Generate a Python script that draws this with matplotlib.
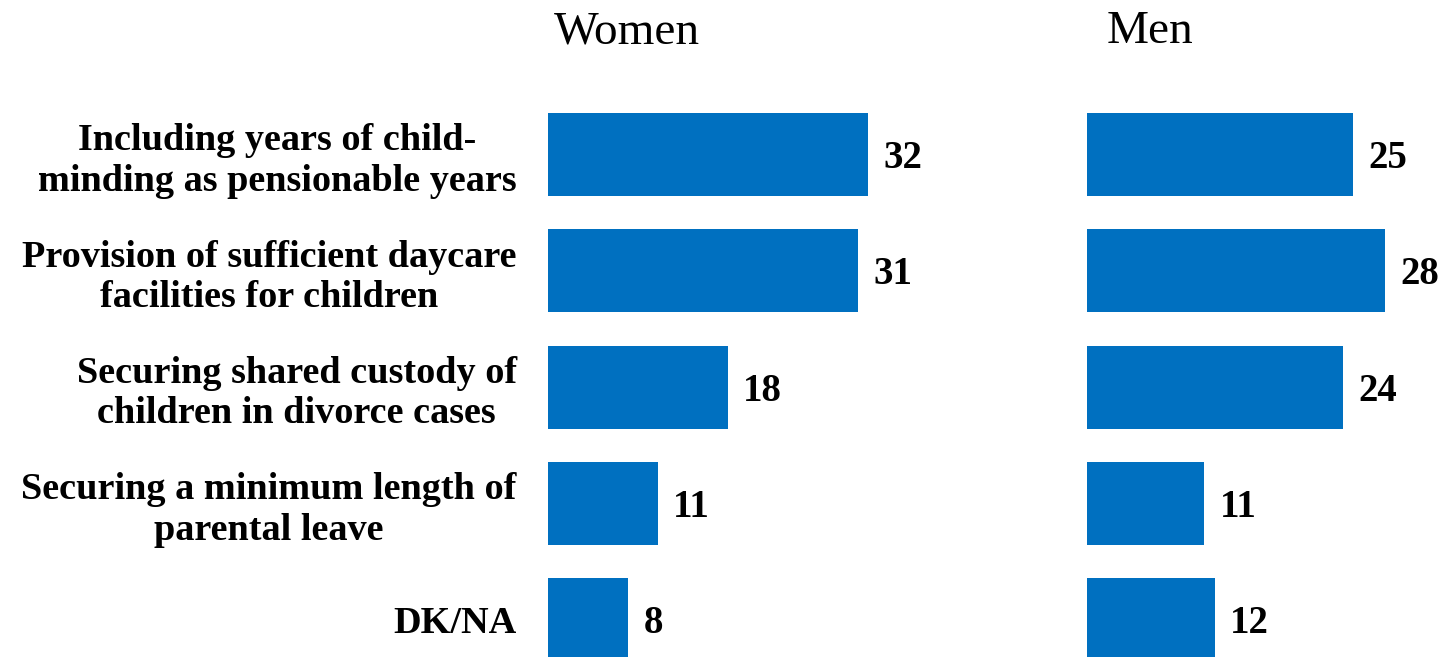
import numpy as np
import matplotlib
matplotlib.use('Agg')
import matplotlib.pyplot as plt

# Survey answers, share in percent
categories = ['Including years of child-\nminding as pensionable years',
              'Provision of sufficient daycare\nfacilities for children',
              'Securing shared custody of\nchildren in divorce cases',
              'Securing a minimum length of\nparental leave',
              'DK/NA']
women = [32, 31, 18, 11, 8]
men = [25, 28, 24, 11, 12]
panel_titles = ['Women', 'Men']

bar_color = '#0070C0'
plt.rcParams['font.family'] = ['Liberation Serif', 'DejaVu Serif']

W, H = 1455, 657
fig = plt.figure(figsize=(W / 100, H / 100), dpi=100)

y = np.arange(len(categories))
ylim = (4.321, -1.328)

# Women panel: starts at x=548px, ~10 px per unit
ax1 = fig.add_axes([548 / W, 0, 450 / W, 1])
ax1.barh(y, women, height=0.714, color=bar_color)
ax1.set_xlim(0, 45)
ax1.set_ylim(*ylim)

# Men panel: starts at x=1087px, ~10.65 px per unit
ax2 = fig.add_axes([1087 / W, 0, 368 / W, 1])
ax2.barh(y, men, height=0.714, color=bar_color)
ax2.set_xlim(0, 368 / 10.65)
ax2.set_ylim(*ylim)

for ax, vals in [(ax1, women), (ax2, men)]:
    for s in ax.spines.values():
        s.set_visible(False)
    ax.set_xticks([])
    ax.tick_params(left=False)
    for yi, v in zip(y, vals):
        ax.annotate(str(v), (v, yi), xytext=(11, -3), textcoords='offset points',
                    ha='left', va='center', fontsize=28, fontweight='bold')

ax1.set_yticks(y)
ax1.set_yticklabels(categories, fontsize=27.5, fontweight='bold',
                    multialignment='center', linespacing=1.2)
ax1.tick_params(axis='y', pad=19)
ax2.set_yticks([])

fig.text(627 / W, 1 - 32 / H, panel_titles[0], ha='center', va='center', fontsize=34)
fig.text(1150 / W, 1 - 32 / H, panel_titles[1], ha='center', va='center', fontsize=34)

fig.savefig('out.png', dpi=100)
